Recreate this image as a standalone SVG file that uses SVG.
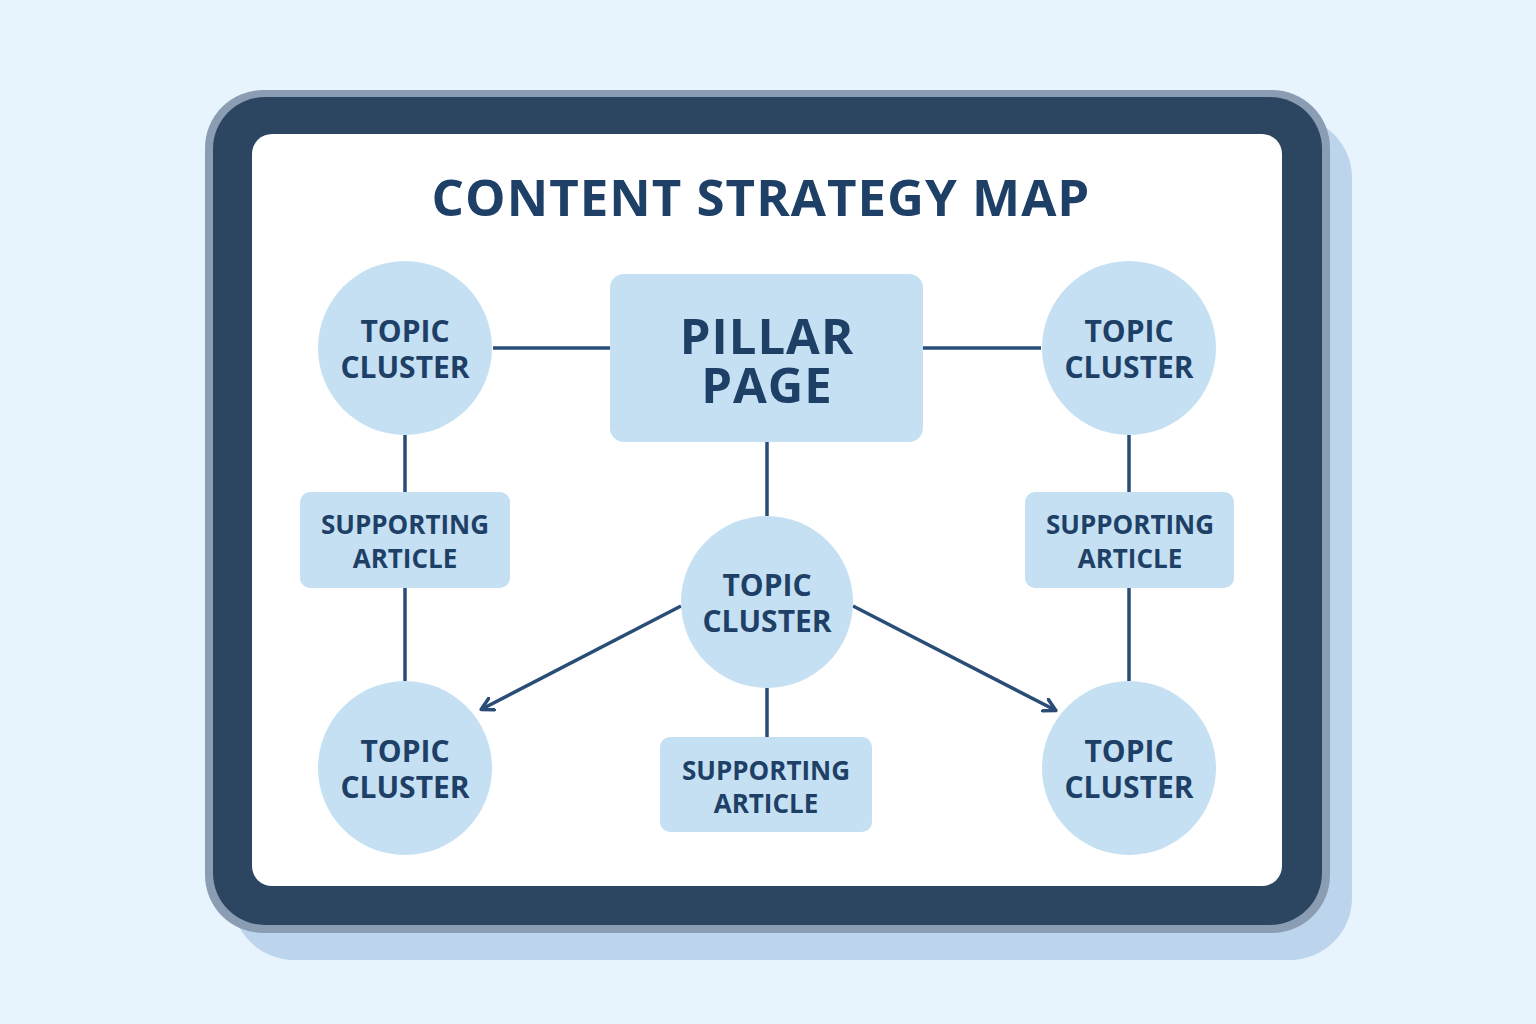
<svg xmlns="http://www.w3.org/2000/svg" width="1536" height="1024" viewBox="0 0 1536 1024">
<defs>
<style>
.node{fill:#c5e0f3}
.lbl{font-family:"Open Sans","Noto Sans","Liberation Sans",sans-serif;font-weight:700;fill:#1e3f66;text-anchor:middle}
.tc{font-size:30px}
.sa{font-size:26px}
.pp{font-size:49px;letter-spacing:1px}
.conn line{stroke:#2a4d78;stroke-width:3.5;fill:none}
</style>
<marker id="arr" markerWidth="16" markerHeight="16" refX="12" refY="8" orient="auto" markerUnits="userSpaceOnUse" viewBox="0 0 16 16">
<path d="M1,1.5 L13,8 L1,14.5" fill="none" stroke="#2a4d78" stroke-width="3.5" stroke-linecap="round" stroke-linejoin="round"/>
</marker>
</defs>
<rect width="1536" height="1024" fill="#e8f4fd"/>
<g id="device">
<rect x="232" y="116" width="1120" height="844" rx="62" fill="#bcd4ec"/>
<rect x="205" y="90" width="1125" height="843" rx="58" fill="#8a9db3"/>
<rect x="213" y="97" width="1109" height="828" rx="52" fill="#2c4560"/>
<rect x="252" y="134" width="1030" height="752" rx="20" fill="#ffffff"/>
</g>
<text id="title" class="lbl" x="761" y="216" font-size="51" letter-spacing="1">CONTENT STRATEGY MAP</text>
<g id="connectors" class="conn">
<line x1="493" y1="348" x2="610" y2="348"/>
<line x1="923" y1="348" x2="1041" y2="348"/>
<line x1="405" y1="435" x2="405" y2="492"/>
<line x1="405" y1="588" x2="405" y2="681"/>
<line x1="1129" y1="435" x2="1129" y2="492"/>
<line x1="1129" y1="588" x2="1129" y2="681"/>
<line x1="767" y1="442" x2="767" y2="516"/>
<line x1="767" y1="688" x2="767" y2="737"/>
<line x1="681" y1="606" x2="482" y2="709" marker-end="url(#arr)"/>
<line x1="853" y1="606" x2="1055" y2="710" marker-end="url(#arr)"/>
</g>
<g id="pillar">
<rect class="node" x="610" y="274" width="313" height="168" rx="14"/>
<text class="lbl pp" x="767" y="354">PILLAR</text>
<text class="lbl pp" x="767" y="403">PAGE</text>
</g>
<g id="topic-tl">
<circle class="node" cx="405" cy="348" r="87"/>
<text class="lbl tc" x="405" y="342">TOPIC</text>
<text class="lbl tc" x="405" y="378">CLUSTER</text>
</g>
<g id="topic-tr">
<circle class="node" cx="1129" cy="348" r="87"/>
<text class="lbl tc" x="1129" y="342">TOPIC</text>
<text class="lbl tc" x="1129" y="378">CLUSTER</text>
</g>
<g id="support-l">
<rect class="node" x="300" y="492" width="210" height="96" rx="10"/>
<text class="lbl sa" x="405" y="534">SUPPORTING</text>
<text class="lbl sa" x="405" y="568">ARTICLE</text>
</g>
<g id="support-r">
<rect class="node" x="1025" y="492" width="209" height="96" rx="10"/>
<text class="lbl sa" x="1130" y="534">SUPPORTING</text>
<text class="lbl sa" x="1130" y="568">ARTICLE</text>
</g>
<g id="topic-c">
<circle class="node" cx="767" cy="602" r="86"/>
<text class="lbl tc" x="767" y="596">TOPIC</text>
<text class="lbl tc" x="767" y="632">CLUSTER</text>
</g>
<g id="topic-bl">
<circle class="node" cx="405" cy="768" r="87"/>
<text class="lbl tc" x="405" y="762">TOPIC</text>
<text class="lbl tc" x="405" y="798">CLUSTER</text>
</g>
<g id="topic-br">
<circle class="node" cx="1129" cy="768" r="87"/>
<text class="lbl tc" x="1129" y="762">TOPIC</text>
<text class="lbl tc" x="1129" y="798">CLUSTER</text>
</g>
<g id="support-b">
<rect class="node" x="660" y="737" width="212" height="95" rx="10"/>
<text class="lbl sa" x="766" y="780">SUPPORTING</text>
<text class="lbl sa" x="766" y="813">ARTICLE</text>
</g>
</svg>
